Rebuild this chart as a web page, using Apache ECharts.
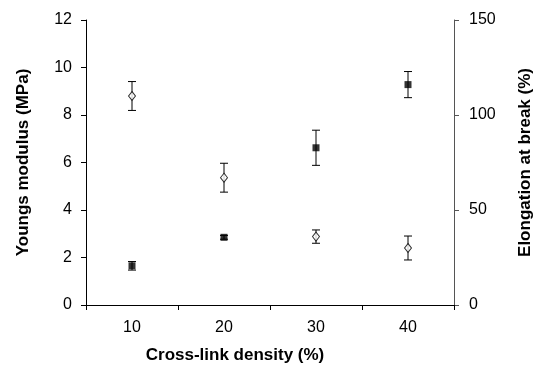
<!DOCTYPE html>
<html>
<head>
<meta charset="utf-8">
<script src="https://cdn.jsdelivr.net/npm/echarts@6/dist/echarts.min.js"></script>
<style>
  html, body { margin: 0; padding: 0; background: #fff; }
  #chart { width: 536px; height: 372px; }
</style>
</head>
<body>
<div id="chart"></div>
<script>
// 数据
const categories = ['10', '20', '30', '40'];
const modulus = [1.65, 2.85, 6.62, 9.28];      // MPa, left axis
const modulusErr = [0.18, 0.08, 0.74, 0.55];
const elongation = [110, 67, 36, 30];          // %, right axis
const elongationErr = [7.6, 7.6, 3.5, 6.3];

const FONT = 'Liberation Sans, Arial, sans-serif';

function errorItem(values, errs) {
  return values.map((v, i) => [i, v - errs[i], v + errs[i]]);
}

function renderErr(params, api) {
  const x = api.value(0);
  const lo = api.coord([x, api.value(1)]);
  const hi = api.coord([x, api.value(2)]);
  const half = 4;
  const style = { stroke: '#000', lineWidth: 1 };
  return {
    type: 'group',
    children: [
      { type: 'line', shape: { x1: hi[0], y1: hi[1], x2: lo[0], y2: lo[1] }, style },
      { type: 'line', shape: { x1: hi[0] - half, y1: hi[1], x2: hi[0] + half, y2: hi[1] }, style },
      { type: 'line', shape: { x1: lo[0] - half, y1: lo[1], x2: lo[0] + half, y2: lo[1] }, style }
    ]
  };
}

const chart = echarts.init(document.getElementById('chart'));
chart.setOption({
  animation: false,
  textStyle: { fontFamily: FONT },
  grid: { left: 86, right: 82, top: 20, bottom: 67, outerBoundsMode: 'none', containLabel: false },
  xAxis: {
    type: 'category',
    data: categories,
    boundaryGap: true,
    name: 'Cross-link density (%)',
    nameLocation: 'middle',
    nameGap: 42,
    nameTextStyle: { fontSize: 17, fontWeight: 'bold', color: '#000', padding: [0, 70, 0, 0] },
    axisLine: { lineStyle: { color: '#000', width: 1 } },
    axisTick: { show: true, alignWithLabel: false, length: 5, lineStyle: { color: '#000' } },
    axisLabel: { color: '#000', fontSize: 16, margin: 15 },
    splitLine: { show: false }
  },
  yAxis: [
    {
      type: 'value',
      min: 0, max: 12, interval: 2,
      position: 'left',
      name: 'Youngs modulus (MPa)',
      nameLocation: 'middle',
      nameGap: 54,
      nameTextStyle: { fontSize: 17, fontWeight: 'bold', color: '#000' },
      axisLine: { show: true, lineStyle: { color: '#000' } },
      axisTick: { show: true, length: 5, lineStyle: { color: '#000' } },
      axisLabel: { color: '#000', fontSize: 16, margin: 14 },
      splitLine: { show: false }
    },
    {
      type: 'value',
      min: 0, max: 150, interval: 50,
      position: 'right',
      name: 'Elongation at break (%)',
      nameLocation: 'middle',
      nameGap: 63,
      nameTextStyle: { fontSize: 17, fontWeight: 'bold', color: '#000' },
      axisLine: { show: true, lineStyle: { color: '#555' } },
      axisTick: { show: true, length: 5, lineStyle: { color: '#555' } },
      axisLabel: { color: '#000', fontSize: 16, margin: 15 },
      splitLine: { show: false }
    }
  ],
  series: [
    {
      type: 'custom',
      yAxisIndex: 0,
      renderItem: renderErr,
      data: errorItem(modulus, modulusErr),
      z: 1
    },
    {
      type: 'custom',
      yAxisIndex: 1,
      renderItem: renderErr,
      data: errorItem(elongation, elongationErr),
      z: 1
    },
    {
      name: 'Youngs modulus',
      type: 'scatter',
      yAxisIndex: 0,
      data: modulus,
      symbol: 'rect',
      symbolSize: 7,
      itemStyle: { color: '#000' },
      z: 3
    },
    {
      name: 'Elongation at break',
      type: 'scatter',
      yAxisIndex: 1,
      data: elongation,
      symbol: 'diamond',
      symbolSize: [7, 9],
      itemStyle: { color: '#fff', borderColor: '#000', borderWidth: 1 },
      z: 3
    }
  ]
});
</script>
</body>
</html>
